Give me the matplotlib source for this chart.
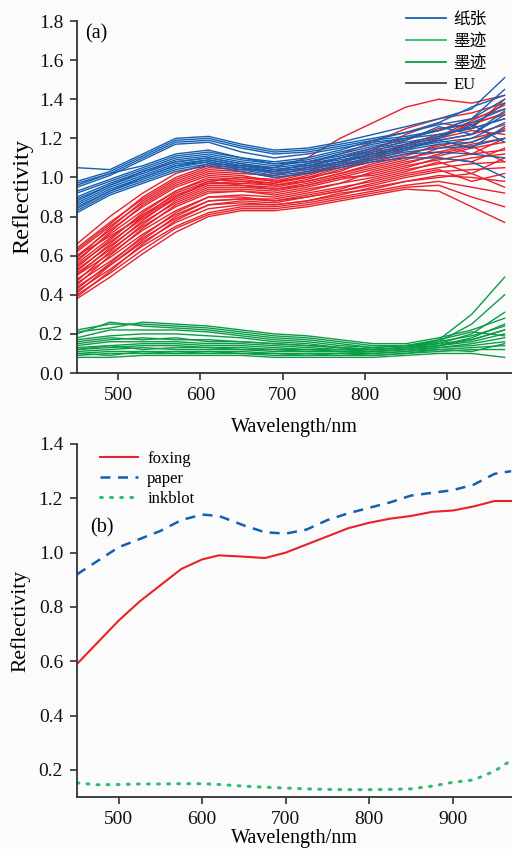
import matplotlib
matplotlib.use("Agg")
import matplotlib.pyplot as plt
from matplotlib.lines import Line2D
from matplotlib.ticker import FormatStrFormatter

plt.rcParams['font.family'] = ['Liberation Serif', 'Noto Sans CJK SC', 'DejaVu Sans']

# ---------------- data: panel (a) ----------------
wl_a = [450, 490, 530, 570, 610, 650, 690, 730, 770, 810, 850, 890, 930, 970]

foxing_curves = [
    [0.66, 0.80, 0.92, 1.02, 1.07, 1.06, 1.05, 1.10, 1.20, 1.28, 1.36, 1.40, 1.38, 1.42],
    [0.64, 0.77, 0.89, 0.99, 1.05, 1.04, 1.03, 1.07, 1.12, 1.18, 1.25, 1.30, 1.33, 1.38],
    [0.62, 0.75, 0.87, 0.97, 1.03, 1.02, 1.01, 1.05, 1.10, 1.15, 1.20, 1.24, 1.30, 1.35],
    [0.60, 0.73, 0.85, 0.95, 1.01, 1.00, 0.99, 1.03, 1.08, 1.12, 1.17, 1.22, 1.25, 1.30],
    [0.58, 0.71, 0.83, 0.93, 0.99, 0.98, 0.97, 1.01, 1.06, 1.10, 1.15, 1.19, 1.22, 1.27],
    [0.56, 0.69, 0.81, 0.91, 0.97, 0.97, 0.96, 0.99, 1.04, 1.08, 1.12, 1.16, 1.20, 1.24],
    [0.55, 0.67, 0.79, 0.89, 0.96, 0.96, 0.95, 0.98, 1.02, 1.06, 1.10, 1.13, 1.17, 1.20],
    [0.53, 0.65, 0.77, 0.87, 0.94, 0.94, 0.93, 0.96, 1.00, 1.04, 1.08, 1.11, 1.15, 1.18],
    [0.51, 0.63, 0.75, 0.85, 0.92, 0.93, 0.92, 0.95, 0.99, 1.02, 1.06, 1.09, 1.12, 1.14],
    [0.50, 0.61, 0.73, 0.83, 0.90, 0.91, 0.90, 0.93, 0.97, 1.00, 1.04, 1.07, 1.10, 1.12],
    [0.48, 0.59, 0.71, 0.81, 0.88, 0.89, 0.89, 0.92, 0.95, 0.98, 1.02, 1.05, 1.07, 1.08],
    [0.46, 0.57, 0.69, 0.79, 0.86, 0.88, 0.87, 0.90, 0.93, 0.96, 1.00, 1.03, 1.04, 1.05],
    [0.44, 0.55, 0.67, 0.77, 0.84, 0.86, 0.86, 0.88, 0.91, 0.95, 0.98, 1.01, 1.00, 0.98],
    [0.42, 0.53, 0.65, 0.75, 0.82, 0.85, 0.85, 0.87, 0.90, 0.93, 0.96, 0.98, 0.95, 0.92],
    [0.40, 0.51, 0.63, 0.74, 0.81, 0.84, 0.84, 0.86, 0.89, 0.92, 0.95, 0.96, 0.90, 0.85],
    [0.38, 0.49, 0.61, 0.72, 0.80, 0.83, 0.83, 0.85, 0.88, 0.91, 0.94, 0.93, 0.85, 0.77],
    [0.60, 0.70, 0.80, 0.90, 0.98, 1.00, 0.98, 1.00, 1.03, 1.10, 1.17, 1.20, 1.28, 1.32],
    [0.52, 0.66, 0.80, 0.92, 0.98, 0.96, 0.94, 0.97, 1.01, 1.05, 1.09, 1.15, 1.18, 1.25],
    [0.47, 0.62, 0.76, 0.88, 0.95, 0.95, 0.94, 0.96, 1.00, 1.01, 1.05, 1.10, 1.08, 1.15],
    [0.43, 0.56, 0.70, 0.82, 0.90, 0.90, 0.88, 0.91, 0.94, 0.99, 1.03, 1.08, 1.02, 1.10],
    [0.57, 0.72, 0.86, 0.96, 1.02, 1.01, 0.98, 1.02, 1.07, 1.13, 1.19, 1.25, 1.27, 1.33],
    [0.54, 0.68, 0.82, 0.93, 1.00, 0.99, 0.97, 1.00, 1.05, 1.09, 1.14, 1.20, 1.24, 1.22],
    [0.50, 0.64, 0.78, 0.90, 0.97, 0.98, 0.96, 0.98, 1.02, 1.07, 1.11, 1.17, 1.12, 1.20],
    [0.45, 0.60, 0.74, 0.86, 0.93, 0.93, 0.91, 0.94, 0.97, 1.03, 1.07, 1.12, 1.16, 1.08],
    [0.41, 0.55, 0.68, 0.80, 0.88, 0.89, 0.88, 0.90, 0.93, 0.97, 1.01, 1.04, 0.98, 1.02],
    [0.39, 0.52, 0.66, 0.78, 0.86, 0.87, 0.86, 0.88, 0.92, 0.94, 0.98, 1.00, 1.02, 0.95],
    [0.63, 0.76, 0.90, 1.00, 1.06, 1.05, 1.02, 1.04, 1.08, 1.14, 1.22, 1.28, 1.25, 1.40],
    [0.59, 0.74, 0.88, 0.98, 1.04, 1.03, 1.00, 1.02, 1.06, 1.11, 1.16, 1.21, 1.29, 1.37],
]

paper_curves = [
    [1.05, 1.04, 1.12, 1.20, 1.21, 1.17, 1.14, 1.15, 1.18, 1.22, 1.26, 1.30, 1.35, 1.51],
    [0.98, 1.03, 1.11, 1.19, 1.20, 1.16, 1.13, 1.14, 1.17, 1.20, 1.23, 1.27, 1.30, 1.40],
    [0.96, 1.02, 1.10, 1.18, 1.19, 1.15, 1.12, 1.13, 1.16, 1.19, 1.21, 1.24, 1.28, 1.35],
    [0.95, 1.01, 1.09, 1.17, 1.18, 1.13, 1.10, 1.12, 1.15, 1.18, 1.20, 1.22, 1.25, 1.30],
    [0.92, 0.98, 1.04, 1.10, 1.12, 1.09, 1.07, 1.09, 1.13, 1.17, 1.20, 1.24, 1.30, 1.45],
    [0.90, 0.97, 1.03, 1.09, 1.11, 1.08, 1.06, 1.08, 1.11, 1.15, 1.18, 1.21, 1.26, 1.38],
    [0.89, 0.96, 1.02, 1.08, 1.10, 1.07, 1.05, 1.07, 1.10, 1.13, 1.16, 1.19, 1.22, 1.32],
    [0.87, 0.95, 1.01, 1.07, 1.09, 1.06, 1.04, 1.06, 1.09, 1.12, 1.15, 1.18, 1.20, 1.28],
    [0.86, 0.94, 1.00, 1.06, 1.08, 1.05, 1.03, 1.05, 1.08, 1.11, 1.14, 1.17, 1.18, 1.24],
    [0.84, 0.93, 0.99, 1.05, 1.08, 1.05, 1.02, 1.04, 1.07, 1.10, 1.13, 1.15, 1.16, 1.20],
    [0.83, 0.92, 0.98, 1.04, 1.07, 1.04, 1.01, 1.03, 1.06, 1.09, 1.12, 1.13, 1.12, 1.10],
    [0.82, 0.91, 0.97, 1.03, 1.06, 1.03, 1.00, 1.02, 1.05, 1.08, 1.10, 1.10, 1.08, 1.00],
    [0.97, 1.02, 1.06, 1.12, 1.14, 1.10, 1.08, 1.10, 1.14, 1.19, 1.23, 1.28, 1.36, 1.42],
    [0.93, 0.99, 1.05, 1.11, 1.13, 1.10, 1.07, 1.08, 1.12, 1.16, 1.19, 1.26, 1.22, 1.34],
    [0.88, 0.96, 1.03, 1.08, 1.10, 1.07, 1.04, 1.06, 1.10, 1.14, 1.17, 1.20, 1.27, 1.18],
    [0.85, 0.93, 1.00, 1.06, 1.09, 1.06, 1.03, 1.05, 1.08, 1.12, 1.15, 1.19, 1.15, 1.26],
]

ink_curves = [
    [0.22, 0.25, 0.25, 0.24, 0.23, 0.21, 0.19, 0.18, 0.16, 0.14, 0.14, 0.17, 0.30, 0.49],
    [0.20, 0.26, 0.24, 0.23, 0.22, 0.20, 0.18, 0.17, 0.15, 0.13, 0.14, 0.16, 0.25, 0.40],
    [0.18, 0.22, 0.22, 0.22, 0.21, 0.19, 0.17, 0.16, 0.14, 0.13, 0.14, 0.15, 0.20, 0.31],
    [0.17, 0.19, 0.20, 0.20, 0.19, 0.18, 0.16, 0.15, 0.13, 0.12, 0.13, 0.14, 0.18, 0.25],
    [0.15, 0.17, 0.18, 0.17, 0.17, 0.16, 0.15, 0.14, 0.13, 0.12, 0.13, 0.15, 0.17, 0.22],
    [0.14, 0.16, 0.16, 0.16, 0.15, 0.15, 0.14, 0.13, 0.12, 0.12, 0.13, 0.16, 0.19, 0.24],
    [0.13, 0.14, 0.15, 0.15, 0.14, 0.14, 0.13, 0.12, 0.12, 0.11, 0.12, 0.14, 0.16, 0.20],
    [0.12, 0.13, 0.14, 0.14, 0.13, 0.13, 0.12, 0.12, 0.11, 0.11, 0.12, 0.13, 0.15, 0.18],
    [0.11, 0.12, 0.13, 0.12, 0.12, 0.12, 0.11, 0.11, 0.11, 0.10, 0.11, 0.13, 0.14, 0.16],
    [0.10, 0.11, 0.11, 0.11, 0.11, 0.11, 0.10, 0.10, 0.10, 0.10, 0.11, 0.12, 0.13, 0.14],
    [0.09, 0.10, 0.10, 0.10, 0.10, 0.10, 0.09, 0.09, 0.09, 0.09, 0.10, 0.11, 0.12, 0.12],
    [0.08, 0.08, 0.09, 0.09, 0.09, 0.09, 0.08, 0.08, 0.08, 0.08, 0.09, 0.10, 0.10, 0.08],
    [0.21, 0.23, 0.26, 0.25, 0.24, 0.22, 0.20, 0.19, 0.17, 0.15, 0.15, 0.18, 0.22, 0.28],
    [0.16, 0.18, 0.17, 0.18, 0.16, 0.16, 0.15, 0.14, 0.13, 0.12, 0.13, 0.17, 0.21, 0.19],
    [0.12, 0.14, 0.12, 0.13, 0.13, 0.12, 0.12, 0.11, 0.11, 0.11, 0.12, 0.14, 0.17, 0.22],
    [0.10, 0.09, 0.11, 0.10, 0.11, 0.10, 0.10, 0.09, 0.10, 0.09, 0.10, 0.12, 0.11, 0.15],
]

legend_a_labels = ["纸张", "墨迹", "墨迹", "EU"]

# ---------------- data: panel (b) ----------------
wl_b = [450, 475, 500, 525, 550, 575, 600, 620, 650, 675, 700, 725, 750, 775,
        800, 825, 850, 875, 900, 925, 950, 970]
foxing_mean = [0.59, 0.67, 0.75, 0.82, 0.88, 0.94, 0.975, 0.99, 0.985, 0.98, 1.0,
               1.03, 1.06, 1.09, 1.11, 1.125, 1.135, 1.15, 1.155, 1.17, 1.19, 1.19]
paper_mean = [0.92, 0.97, 1.02, 1.05, 1.08, 1.12, 1.14, 1.135, 1.10, 1.075, 1.07,
              1.085, 1.12, 1.145, 1.165, 1.185, 1.21, 1.22, 1.23, 1.25, 1.29, 1.30]
inkblot_mean = [0.152, 0.145, 0.146, 0.148, 0.148, 0.149, 0.149, 0.146, 0.140, 0.136, 0.133,
                0.130, 0.128, 0.127, 0.127, 0.128, 0.130, 0.140, 0.154, 0.163, 0.195, 0.235]
legend_b_labels = ['foxing', 'paper', 'inkblot']

RED = '#e8212b'
BLUE = '#1660b0'
GREEN = '#0b9c46'
LGREEN = '#33bb70'
SPINE = '#333333'
BG = '#fbfbfb'

fig = plt.figure(figsize=(5.12, 8.49), dpi=100, facecolor=BG)

ax1 = fig.add_axes([77/512, 1-373/849, 1-77/512, (373-21)/849])
ax2 = fig.add_axes([77/512, 1-797/849, 1-77/512, (797-444)/849])

for ax in (ax1, ax2):
    ax.set_facecolor(BG)
    for s in ('top', 'right'):
        ax.spines[s].set_visible(False)
    for s in ('left', 'bottom'):
        ax.spines[s].set_color(SPINE)
        ax.spines[s].set_linewidth(1.3)
    ax.tick_params(direction='out', length=5, width=1.2, color=SPINE,
                   labelsize=14, labelcolor='#111111', pad=5)

# panel (a)
for c in foxing_curves:
    ax1.plot(wl_a, c, color=RED, lw=1.0)
for c in paper_curves:
    ax1.plot(wl_a, c, color=BLUE, lw=1.0)
for c in ink_curves:
    ax1.plot(wl_a, c, color=GREEN, lw=1.0)

ax1.set_xlim(450, 979)
ax1.set_ylim(0, 1.8)
ax1.set_xticks([500, 600, 700, 800, 900])
ax1.set_yticks([0.0, 0.2, 0.4, 0.6, 0.8, 1.0, 1.2, 1.4, 1.6, 1.8])
ax1.yaxis.set_major_formatter(FormatStrFormatter('%.1f'))
ax1.set_xlabel('Wavelength/nm', fontsize=14.5, labelpad=10)
ax1.set_ylabel('Reflectivity', fontsize=17.5, labelpad=4)
ax1.text(0.018, 0.99, '(a)', transform=ax1.transAxes, fontsize=14.5, va='top', ha='left')

handles_a = [Line2D([], [], color=BLUE, lw=1.3),
             Line2D([], [], color=LGREEN, lw=1.3),
             Line2D([], [], color=GREEN, lw=1.3),
             Line2D([], [], color='#444444', lw=1.3)]
ax1.legend(handles_a, legend_a_labels, loc='upper left',
           bbox_to_anchor=(394/512, 1.0), bbox_transform=fig.transFigure,
           frameon=False, fontsize=12, handlelength=2.4, handletextpad=0.45,
           labelspacing=0.35, borderaxespad=0.3)

# panel (b)
ax2.plot(wl_b, foxing_mean, color=RED, lw=1.5, label=legend_b_labels[0])
ax2.plot(wl_b, paper_mean, color=BLUE, lw=1.8, dashes=(4, 3), label=legend_b_labels[1])
ax2.plot(wl_b, inkblot_mean, color=LGREEN, lw=2.2, dashes=(0.6, 2.7),
         dash_capstyle='round', label=legend_b_labels[2])
ax2.set_xlim(450, 971)
ax2.set_ylim(0.1, 1.4)
ax2.set_xticks([500, 600, 700, 800, 900])
ax2.set_yticks([0.2, 0.4, 0.6, 0.8, 1.0, 1.2, 1.4])
ax2.yaxis.set_major_formatter(FormatStrFormatter('%.1f'))
ax2.set_xlabel('Wavelength/nm', fontsize=14.5, labelpad=1)
ax2.set_ylabel('Reflectivity', fontsize=15.5, labelpad=6)
ax2.text(0.03, 0.762, '(b)', transform=ax2.transAxes, fontsize=14.5, va='center', ha='left')
ax2.legend(loc='upper left', bbox_to_anchor=(93/512, 1-444/849),
           bbox_transform=fig.transFigure, frameon=False, fontsize=12,
           handlelength=2.3, handletextpad=0.55, labelspacing=0.25, borderaxespad=0.0)

fig.savefig('out.png', dpi=100, facecolor=BG)
